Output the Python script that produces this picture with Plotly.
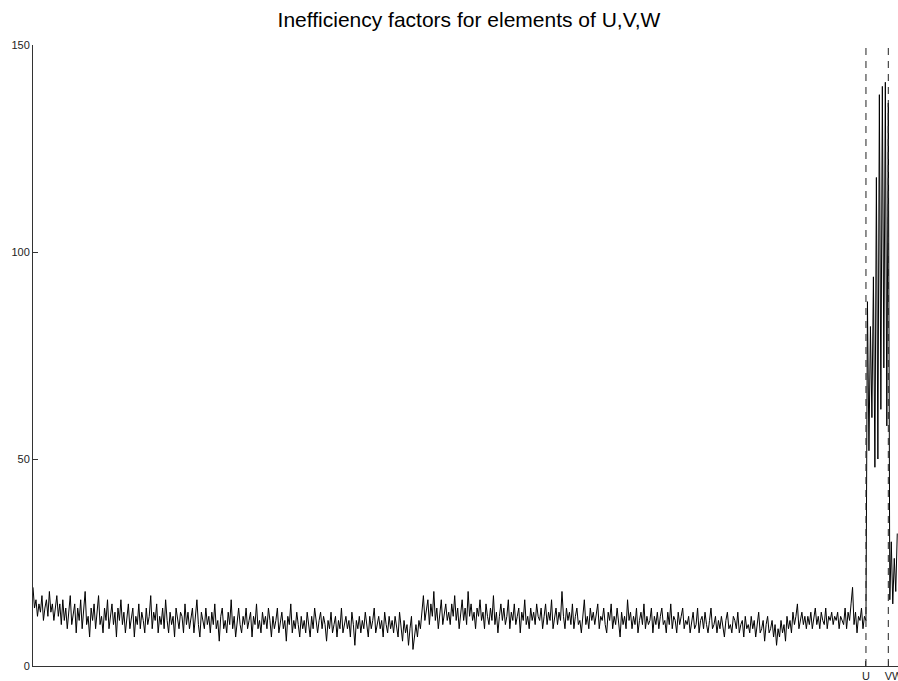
import plotly.graph_objects as go

# Inefficiency factors, one value per element, in block order U, V, W
u_factors = [
    19, 14, 16, 12, 15, 13, 17, 11, 14, 16, 12, 18, 13, 15, 11, 14, 17, 12, 15, 10,
    16, 11, 14, 9, 13, 17, 10, 12, 15, 8, 14, 11, 16, 9, 13, 18, 10, 12, 7, 14,
    11, 15, 9, 13, 17, 10, 12, 8, 14, 11, 16, 9, 12, 15, 10, 13, 7, 14, 11, 16,
    10, 13, 8, 12, 15, 9, 11, 14, 7, 12, 10, 15, 9, 13, 11, 8, 14, 10, 12, 17,
    9, 13, 11, 15, 8, 12, 10, 14, 9, 16, 11, 8, 13, 10, 12, 7, 14, 11, 9, 13,
    12, 8, 15, 10, 13, 9, 11, 14, 8, 12, 16, 10, 7, 13, 11, 9, 14, 10, 12, 8,
    13, 10, 15, 9, 11, 6, 12, 14, 9, 11, 8, 13, 10, 16, 9, 12, 7, 11, 14, 10,
    8, 12, 10, 14, 9, 11, 13, 7, 12, 10, 15, 9, 11, 8, 13, 10, 12, 9, 14, 11,
    7, 12, 9, 11, 14, 8, 10, 13, 9, 11, 6, 12, 10, 15, 8, 11, 9, 13, 10, 7,
    12, 9, 11, 8, 13, 10, 7, 12, 9, 14, 10, 8, 11, 13, 9, 12, 10, 6, 11, 9,
    13, 8, 10, 12, 7, 11, 9, 14, 8, 10, 12, 9, 11, 7, 13, 10, 5, 11, 9, 12,
    8, 11, 9, 13, 10, 7, 12, 9, 11, 14, 8, 10, 12, 9, 11, 7, 13, 10, 8, 12,
    9, 11, 8, 12, 10, 7, 13, 9, 6, 11, 8, 10, 5, 9, 12, 4, 8, 10, 7, 11,
    9, 14, 17, 11, 13, 16, 10, 15, 12, 18, 11, 14, 9, 13, 16, 10, 12, 15, 11, 13,
    10, 15, 12, 17, 11, 14, 9, 13, 16, 11, 14, 10, 18, 12, 15, 11, 13, 9, 14, 12,
    16, 11, 13, 9, 15, 12, 10, 14, 11, 17, 10, 13, 8, 12, 15, 11, 14, 10, 12, 16,
    9, 13, 11, 15, 10, 12, 14, 8, 13, 11, 16, 10, 12, 9, 14, 11, 13, 10, 15, 12,
    11, 14, 9, 12, 15, 10, 13, 11, 16, 9, 12, 14, 10, 13, 11, 18, 12, 9, 14, 11,
    13, 10, 15, 9, 12, 14, 10, 11, 8, 13, 16, 10, 12, 9, 14, 11, 13, 10, 12, 15,
    9, 12, 11, 14, 10, 8, 13, 11, 15, 9, 12, 10, 14, 11, 7, 13, 10, 12, 9, 16,
    11, 13, 9, 12, 10, 14, 8, 11, 13, 10, 15, 9, 12, 10, 11, 14, 8, 12, 10, 13,
    9, 12, 14, 10, 11, 8, 13, 10, 15, 9, 12, 11, 8, 13, 10, 12, 14, 9, 11, 10,
    12, 8, 11, 13, 9, 10, 14, 8, 11, 12, 9, 13, 10, 8, 11, 14, 9, 10, 12, 8,
    11, 9, 12, 10, 7, 11, 13, 9, 10, 8, 12, 11, 9, 13, 8, 10, 11, 7, 12, 9,
    10, 8, 12, 9, 11, 7, 10, 13, 8, 9, 11, 6, 10, 12, 8, 9, 11, 7, 10, 5,
    9, 7, 11, 8, 10, 6, 12, 9, 11, 8, 13, 10, 12, 15, 9, 11, 13, 10, 12, 9,
    12, 10, 13, 9, 11, 14, 10, 12, 9, 13, 11, 10, 14, 9, 12, 11, 13, 10, 12, 11,
    13, 9, 12, 11, 10, 14, 9, 13, 11, 15, 19, 10, 13, 8, 12, 11, 14, 9, 12, 11,
]
v_factors = [88, 52, 82, 60, 94, 48, 118, 50, 138, 62, 140, 72, 141, 58, 136]
w_factors = [16, 30, 15, 26, 18, 32]

block_names = ["U", "V", "W"]
y_ticks = [0, 50, 100, 150]

factors = u_factors + v_factors + w_factors
element = list(range(1, len(factors) + 1))

# last element index of each block
block_ends = []
total = 0
for blk in (u_factors, v_factors, w_factors):
    total += len(blk)
    block_ends.append(total)

fig = go.Figure()

fig.add_trace(go.Scatter(
    x=element, y=factors, mode="lines",
    line=dict(color="black", width=1),
    showlegend=False, hoverinfo="skip",
))

# dashed separators after the U and V blocks
for end in block_ends[:2]:
    fig.add_trace(go.Scatter(
        x=[end, end], y=[y_ticks[0], y_ticks[-1]], mode="lines",
        line=dict(color="#222222", width=1, dash="7px,6px"),
        showlegend=False, hoverinfo="skip",
    ))

axis_font = dict(family="Liberation Sans, Arial, sans-serif", size=11, color="#222222")

fig.update_layout(
    template="none",
    width=898, height=681,
    margin=dict(l=33, r=0, t=45, b=15),
    paper_bgcolor="white", plot_bgcolor="white",
    title=dict(
        text="Inefficiency factors for elements of U,V,W",
        font=dict(family="Liberation Sans, Arial, sans-serif", size=21, color="black"),
        x=469 / 898, xref="container", xanchor="center",
        y=1 - 19.5 / 681, yref="container", yanchor="middle",
    ),
    xaxis=dict(
        range=[1, len(factors) + 0.5],
        tickvals=block_ends, ticktext=block_names,
        tickangle=0,
        ticks="inside", ticklen=5, tickcolor="#333333",
        showline=True, linecolor="#333333", linewidth=1,
        showgrid=False, zeroline=False, automargin=False,
        ticklabeloverflow="allow",
        tickfont=axis_font,
    ),
    yaxis=dict(
        range=[y_ticks[0], y_ticks[-1]],
        tickvals=y_ticks,
        ticks="inside", ticklen=5, tickcolor="#333333",
        showline=True, linecolor="#333333", linewidth=1,
        showgrid=False, zeroline=False, automargin=False,
        tickfont=axis_font,
    ),
)

fig.write_html("out.html", config={"displayModeBar": False})
